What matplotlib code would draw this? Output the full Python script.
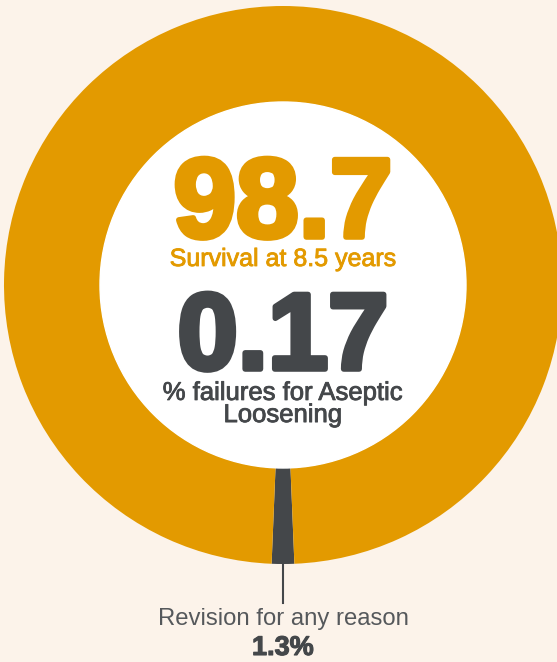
import matplotlib.pyplot as plt
import matplotlib.patheffects as pe

# values
slice_labels = ["Revision for any reason", "Survival"]
slice_values = [1.3, 98.7]
survival_value = "98.7"
survival_text = "Survival at 8.5 years"
aseptic_value = "0.17"
aseptic_text = "% failures for Aseptic\nLoosening"
revision_text = "Revision for any reason"
revision_value = "1.3%"

bg = "#FCF3EA"
orange = "#E39A00"
dark = "#44474A"

fig = plt.figure(figsize=(5.57, 6.62), dpi=100)
fig.patch.set_facecolor(bg)
ax = fig.add_axes([0, 0, 1, 1])
ax.set_facecolor(bg)

cx, cy = 283, 285
r_out, r_in = 279, 183

# y axis is flipped, so data angle 90 points down on screen
start = 90 - slice_values[0] / 100 * 360 / 2
ax.pie(slice_values, colors=[dark, orange], startangle=start, counterclock=True,
       center=(cx, cy), radius=r_out,
       wedgeprops=dict(width=r_out - r_in, linewidth=0))
ax.add_patch(plt.Circle((cx, cy), r_in, color="white", zorder=3))

ax.set_xlim(0, 557)
ax.set_ylim(662, 0)
ax.set_aspect("equal")
ax.axis("off")

# leader line
ax.plot([cx, cx], [cy + r_out, 603], color=dark, lw=1.5, zorder=4)

font = "Liberation Sans"
ax.text(cx, 237, survival_value, ha="center", va="baseline", fontsize=81,
        fontweight="bold", family=font, color=orange, zorder=5,
        path_effects=[pe.withStroke(linewidth=4, foreground=orange)])
ax.text(cx, 259, survival_text, ha="center", va="center", fontsize=18,
        family=font, color=orange, zorder=5,
        path_effects=[pe.withStroke(linewidth=0.6, foreground=orange)])
ax.text(cx, 369, aseptic_value, ha="center", va="baseline", fontsize=78,
        fontweight="bold", family=font, color=dark, zorder=5,
        path_effects=[pe.withStroke(linewidth=4, foreground=dark)])
ax.text(cx, 404, aseptic_text, ha="center", va="center", fontsize=18.5,
        family=font, color=dark, zorder=5, linespacing=0.9,
        path_effects=[pe.withStroke(linewidth=0.6, foreground=dark)])

ax.text(cx, 619, revision_text, ha="center", va="center", fontsize=17.2,
        family=font, color="#55585B", zorder=5)
ax.text(cx, 648, revision_value, ha="center", va="center", fontsize=19.5,
        fontweight="bold", family=font, color=dark, zorder=5,
        path_effects=[pe.withStroke(linewidth=0.8, foreground=dark)])

fig.savefig("out.png", dpi=100, facecolor=bg)
